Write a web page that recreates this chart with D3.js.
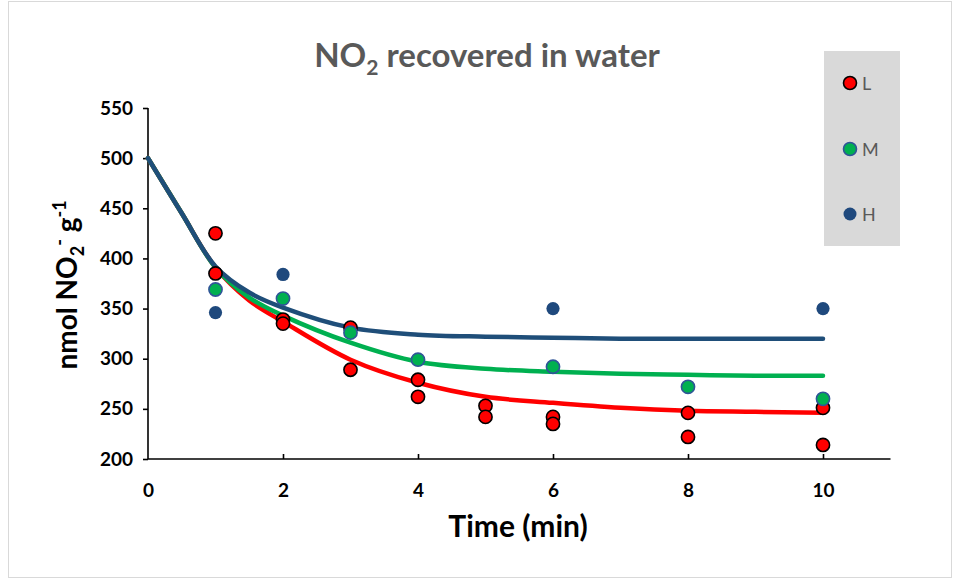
<!DOCTYPE html>
<html><head><meta charset="utf-8">
<script src="https://cdn.jsdelivr.net/npm/d3@7"></script>
<style>body{margin:0;background:#fff}svg{display:block}</style>
</head><body>
<svg id="c" width="954" height="580"></svg>
<script>
// Data
const xTicks = [0,2,4,6,8,10];
const yTicks = [200,250,300,350,400,450,500,550];
const seriesNames = ["L","M","H"];
const pointsL = [[1,425],[1,385],[2,339],[2,335],[3,331],[3,289],[4,279],[4,262],[5,253],[5,242],[6,242],[6,235],[8,246],[8,222],[10,251],[10,214]];
const pointsM = [[1,369],[2,360],[3,326],[4,299],[6,292],[8,272],[10,260]];
const pointsH = [[1,346],[2,384],[6,350],[10,350]];
const curveT = [0,0.5,1,1.5,2,3,4,5,6,7,8,9,10];
const curveL = [500,445,391,358,337,299,276,262,256,251,248,247,246];
const curveM = [500,445,391,361,343,316,297,290,287,285,284,283,283];
const curveH = [500,445,392,366,351,331,324,322,321,320,320,320,320];

const svg = d3.select("#c");
const font = "Lato, 'Open Sans', sans-serif";
// outer border
svg.append("rect").attr("x",8.5).attr("y",1.5).attr("width",943).attr("height",576)
  .attr("fill","#fff").attr("stroke","#d9d9d9");

const x = d3.scaleLinear().domain([0,11]).range([148,890.5]);
const y = d3.scaleLinear().domain([200,550]).range([459,108]);

// title
const t = svg.append("text").attr("x",487).attr("y",67).attr("text-anchor","middle")
  .attr("font-family",font).attr("font-weight","bold").attr("font-size",33).attr("fill","#595959");
t.append("tspan").text("NO");
t.append("tspan").attr("font-size",21).attr("dy",8).text("2");
t.append("tspan").attr("dy",-8).text(" recovered in water");

// axes
const yAxis = svg.append("g").attr("transform","translate(148,0)")
  .call(d3.axisLeft(y).tickValues(yTicks).tickSize(5).tickPadding(10));
const xAxis = svg.append("g").attr("transform","translate(0,459)")
  .call(d3.axisBottom(x).tickValues(xTicks).tickSize(-5));
[yAxis,xAxis].forEach(a=>{
  a.select(".domain").attr("stroke","#000").attr("stroke-width",1.6);
  a.selectAll(".tick line").attr("stroke","#000").attr("stroke-width",1.6);
  a.selectAll(".tick text").attr("font-family",font).attr("font-weight","bold")
    .attr("font-size",19).attr("fill","#000");
});
xAxis.selectAll(".tick text").attr("y",38).attr("dy",0);
yAxis.select(".domain").attr("d","M0,108H0V459");
xAxis.select(".domain").attr("d","M148,0H890.5");
xAxis.selectAll(".tick").filter(d=>d===0).select("line").remove();

// axis titles
svg.append("text").attr("x",518).attr("y",537).attr("text-anchor","middle")
  .attr("font-family",font).attr("font-weight","bold").attr("font-size",30).attr("fill","#000")
  .text("Time (min)");
const yl = svg.append("text").attr("transform","translate(77,285) rotate(-90)").attr("text-anchor","middle")
  .attr("font-family",font).attr("font-weight","bold").attr("font-size",28).attr("fill","#000");
yl.append("tspan").text("nmol NO");
yl.append("tspan").attr("font-size",18).attr("dy",7).text("2");
yl.append("tspan").attr("font-size",18).attr("dy",-18).text("-");
yl.append("tspan").attr("dy",11).text(" g");
yl.append("tspan").attr("font-size",18).attr("dy",-11).text("-1");

// curves
const line = d3.line().x(d=>x(d[0])).y(d=>y(d[1])).curve(d3.curveCatmullRom.alpha(0.5));
const curves = [[curveL,"#ff0000"],[curveM,"#00b050"],[curveH,"#1f4e79"]];
curves.forEach(([vals,col])=>{
  svg.append("path").datum(curveT.map((tt,i)=>[tt,vals[i]])).attr("d",line)
    .attr("fill","none").attr("stroke",col).attr("stroke-width",4.5).attr("stroke-linecap","round");
});

// points
const styles = {
  L:{fill:"#ff0000",stroke:"#000",sw:1.6},
  M:{fill:"#00b050",stroke:"#2f5597",sw:1.6},
  H:{fill:"#1f497d",stroke:"none",sw:0}
};
[[pointsL,"L"],[pointsM,"M"],[pointsH,"H"]].forEach(([pts,k])=>{
  const s = styles[k];
  svg.append("g").selectAll("circle").data(pts).join("circle")
    .attr("cx",d=>x(d[0])).attr("cy",d=>y(d[1])).attr("r",6.6)
    .attr("fill",s.fill).attr("stroke",s.stroke).attr("stroke-width",s.sw);
});

// legend
svg.append("rect").attr("x",824).attr("y",51).attr("width",76).attr("height",195).attr("fill","#d9d9d9");
const ly = [83,149,214];
seriesNames.forEach((n,i)=>{
  const s = styles[n];
  svg.append("circle").attr("cx",850).attr("cy",ly[i]).attr("r",6.5)
    .attr("fill",s.fill).attr("stroke",s.stroke).attr("stroke-width",s.sw);
  svg.append("text").attr("x",862).attr("y",ly[i]+6.5).attr("font-family",font)
    .attr("font-size",18).attr("fill","#595959").text(n);
});
</script>
</body></html>
